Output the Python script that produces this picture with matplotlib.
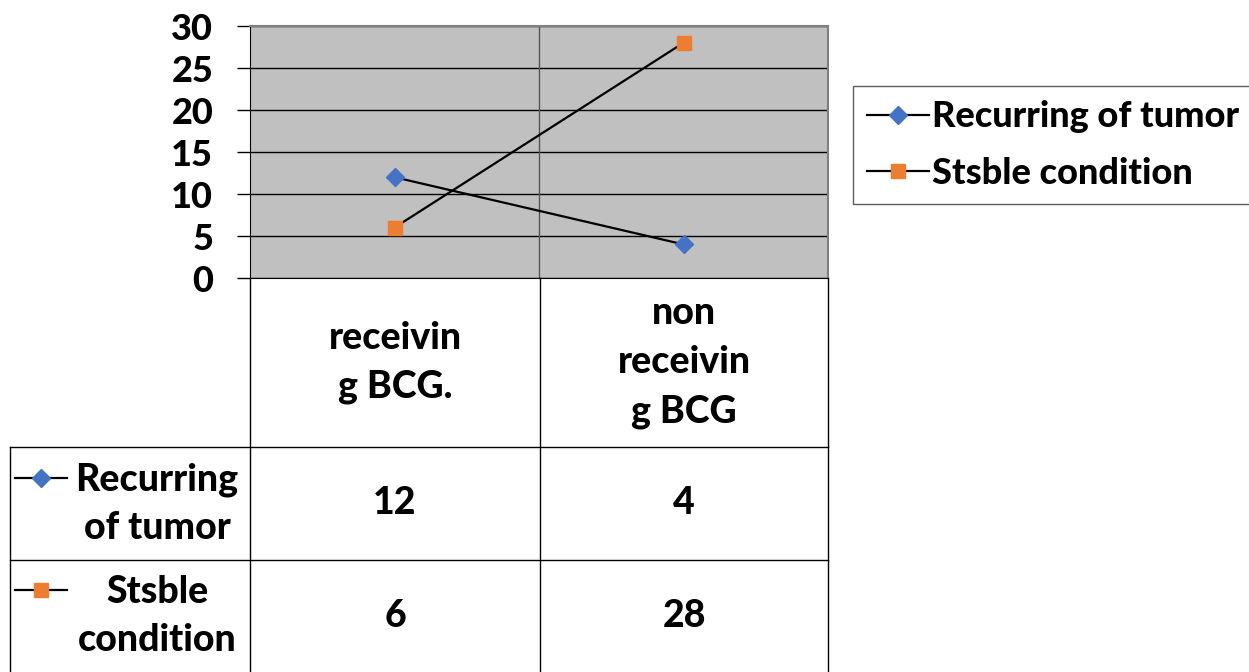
import matplotlib
matplotlib.use("Agg")
import matplotlib.pyplot as plt
from matplotlib.lines import Line2D

plt.rcParams["font.family"] = ["Lato", "DejaVu Sans"]
plt.rcParams["font.weight"] = 900

categories = ["receivin\ng BCG.", "non\nreceivin\ng BCG"]
series_names = ["Recurring of tumor", "Stsble condition"]
row_labels = ["Recurring\nof tumor", "Stsble\ncondition"]
recurring = [12, 4]
stable = [6, 28]
yticks = [0, 5, 10, 15, 20, 25, 30]

colors = ["#4472C4", "#ED7D31"]
markers = ["D", "s"]
msizes = [9, 10]

W, H = 1249, 672
fig = plt.figure(figsize=(W / 100, H / 100), dpi=100)


def fx(x):
    return x / W


def fy(y):
    return 1 - y / H


ax = fig.add_axes([fx(250), fy(278), fx(828) - fx(250), fy(26) - fy(278)])
ax.set_facecolor("#C0C0C0")
x = list(range(len(categories)))
for vals, c, m, ms, name in zip([recurring, stable], colors, markers, msizes, series_names):
    ax.plot(x, vals, color="black", lw=1.6, marker=m, ms=ms,
            markerfacecolor=c, markeredgecolor=c, label=name, zorder=3)

ax.set_xlim(-0.5, len(categories) - 0.5)
ax.set_ylim(0, 30)
ax.set_yticks(yticks)
ax.tick_params(axis="y", length=9.5, width=1, pad=17, labelsize=26)
ax.set_xticks([])
ax.grid(axis="y", color="black", lw=1)
ax.axvline(0.5, color="#555555", lw=1)
for s in ["top", "right"]:
    ax.spines[s].set_color("#808080")
    ax.spines[s].set_linewidth(1.5)
ax.spines["left"].set_color("black")
ax.spines["bottom"].set_color("black")

# legend
ax.legend(loc="upper left", bbox_to_anchor=(fx(853), fy(86)), bbox_transform=fig.transFigure,
          frameon=True, fancybox=False, edgecolor="#333333", fontsize=26,
          handlelength=1.7, handletextpad=0.1, borderpad=0.4, labelspacing=0.65,
          borderaxespad=0)

# data table
lc = "black"
col_x = [250, 540, 828]
row_y = [278, 447, 560, 672]
for xx in col_x:
    fig.add_artist(Line2D([fx(xx), fx(xx)], [fy(278), fy(672)], color=lc, lw=1))
fig.add_artist(Line2D([fx(10), fx(10)], [fy(447), fy(672)], color=lc, lw=1))
fig.add_artist(Line2D([fx(10), fx(828)], [fy(447), fy(447)], color=lc, lw=1))
fig.add_artist(Line2D([fx(10), fx(828)], [fy(560), fy(560)], color=lc, lw=1))

centers = [(col_x[i] + col_x[i + 1]) / 2 for i in range(len(categories))]
for cx, cat in zip(centers, categories):
    fig.text(fx(cx), fy((278 + 447) / 2), cat, ha="center", va="center",
             fontsize=27, linespacing=1.55)

for r, (vals, lab, c, m, ms) in enumerate(zip([recurring, stable], row_labels, colors, markers, msizes)):
    yc = (row_y[r + 1] + row_y[r + 2]) / 2
    for cx, v in zip(centers, vals):
        fig.text(fx(cx), fy(yc), str(v), ha="center", va="center", fontsize=27)
    fig.text(fx(157), fy(yc), lab, ha="center", va="center", fontsize=27, linespacing=1.5)
    my = yc - 26
    fig.add_artist(Line2D([fx(15), fx(67)], [fy(my), fy(my)], color="black", lw=1.6))
    fig.add_artist(Line2D([fx(41)], [fy(my)], marker=m, ms=ms, color=c, lw=0))

fig.savefig("out.png", dpi=100)
